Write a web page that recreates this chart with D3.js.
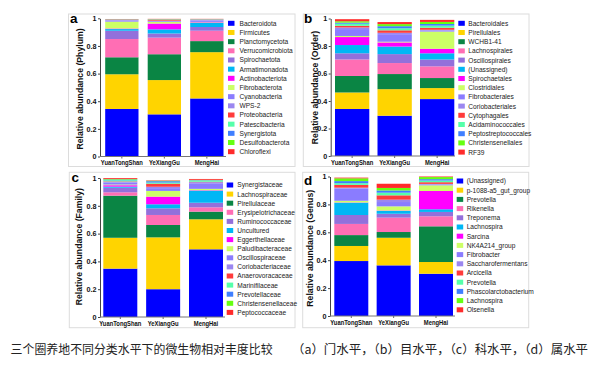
<!DOCTYPE html>
<html><head><meta charset="utf-8">
<script src="https://cdn.jsdelivr.net/npm/d3@7"></script>
<style>body{margin:0;background:#fff}svg{display:block}</style>
</head><body>
<svg id="chart" width="600" height="369"></svg>
<script>
// ---------- data ----------
const sites = ["YuanTongShan", "YeXiangGu", "MengHai"];
const yTickValues = [0, 0.2, 0.4, 0.6, 0.8, 1];
const yTickLabels = ["0", "0.2", "0.4", "0.6", "0.8", "1"];
const palette = ["#0000ff", "#ffd400", "#0a8544", "#ff6eb4", "#9370db", "#00b7f5", "#ff00ff",
  "#ccff66", "#8a7cff", "#9b87f0", "#ff3b3b", "#55ffaa", "#3f7fff", "#66ff11", "#ff2b2b"];

// rows: [YuanTongShan, YeXiangGu, MengHai]
const phylumNames = ["Bacteroidota", "Firmicutes", "Planctomycetota", "Verrucomicrobiota", "Spirochaetota",
  "Armatimonadota", "Actinobacteriota", "Fibrobacterota", "Cyanobacteria", "WPS-2", "Proteobacteria",
  "Patescibacteria", "Synergistota", "Desulfobacterota", "Chloroflexi"];
const phylumValues = [
  [0.344, 0.305, 0.420], [0.251, 0.248, 0.335], [0.123, 0.187, 0.080], [0.132, 0.120, 0.075],
  [0.060, 0.030, 0.027], [0.012, 0.030, 0.030], [0.004, 0.042, 0.004], [0.050, 0.012, 0.003],
  [0.007, 0.005, 0.010], [0.006, 0.004, 0.006], [0.002, 0.008, 0.002], [0.001, 0.002, 0.001],
  [0.001, 0.001, 0.001], [0.001, 0.001, 0.001], [0.001, 0.001, 0.001]];

const orderNames = ["Bacteroidales", "Pirellulales", "WCHB1-41", "Lachnospirales", "Oscillospirales",
  "(Unassigned)", "Spirochaetales", "Clostridiales", "Fibrobacterales", "Coriobacteriales", "Cytophagales",
  "Acidaminococcales", "Peptostreptococcales", "Christensenellales", "RF39"];
const orderValues = [
  [0.342, 0.293, 0.414], [0.120, 0.193, 0.080], [0.120, 0.110, 0.073], [0.120, 0.080, 0.085],
  [0.045, 0.065, 0.050], [0.060, 0.055, 0.045], [0.058, 0.030, 0.033], [0.008, 0.005, 0.125],
  [0.050, 0.055, 0.008], [0.012, 0.010, 0.005], [0.012, 0.018, 0.015], [0.015, 0.015, 0.015],
  [0.008, 0.015, 0.012], [0.010, 0.015, 0.015], [0.015, 0.015, 0.015]];

const familyNames = ["Synergistaceae", "Lachnospiraceae", "Pirellulaceae", "Erysipelotrichaceae",
  "Ruminococcaceae", "Uncultured", "Eggerthellaceae", "Paludibacteraceae", "Oscillospiraceae",
  "Coriobacteriaceae", "Anaerovoracaceae", "Marinifilaceae", "Prevotellaceae", "Christensenellaceae",
  "Peptococcaceae"];
const familyValues = [
  [0.348, 0.200, 0.487], [0.222, 0.373, 0.216], [0.303, 0.089, 0.055], [0.024, 0.072, 0.031],
  [0.033, 0.048, 0.033], [0.008, 0.029, 0.087], [0.010, 0.055, 0.003], [0.005, 0.041, 0.010],
  [0.015, 0.020, 0.040], [0.005, 0.010, 0.008], [0.003, 0.022, 0.003], [0.008, 0.008, 0.008],
  [0.005, 0.010, 0.003], [0.005, 0.003, 0.003], [0.006, 0.003, 0.006]];

const genusNames = ["(Unassigned)", "p-1088-a5_gut_group", "Prevotella", "Rikenella", "Treponema",
  "Lachnospira", "Sarcina", "NK4A214_group", "Fibrobacter", "Saccharofermentans", "Arcicella",
  "Prevotella", "Phascolarctobacterium", "Lachnospira", "Olsenella"];
const genusValues = [
  [0.394, 0.363, 0.303], [0.108, 0.198, 0.084], [0.078, 0.041, 0.256], [0.080, 0.103, 0.072],
  [0.064, 0.028, 0.031], [0.088, 0.020, 0.019], [0.002, 0.003, 0.131], [0.012, 0.030, 0.041],
  [0.088, 0.031, 0.005], [0.006, 0.017, 0.005], [0.020, 0.031, 0.012], [0.012, 0.019, 0.012],
  [0.015, 0.016, 0.010], [0.020, 0.018, 0.015], [0.005, 0.030, 0.004]];

const caption1 = "三个圈养地不同分类水平下的微生物相对丰度比较";
const caption2 = "（a）门水平，（b）目水平，（c）科水平，（d）属水平";

// ---------- layout ----------
const panels = [
  {letter: "a", title: "Relative abundance (Phylum)", names: phylumNames, values: phylumValues,
   box: [68.5, 14, 295, 166.5], axisX: 100, y0: 156.5, y1: 18.3, barLeft: 105.2, step: 42.5, barW: 33.3,
   axisRight: 226, letterPos: [70, 22.7], titlePos: [80, 89], legX: 228, legTextX: 239.5, legY: 23.3, legStep: 9.17},
  {letter: "b", title: "Relative abundance (Order)", names: orderNames, values: orderValues,
   box: [303.3, 14, 529, 166.5], axisX: 330.7, y0: 156, y1: 18.5, barLeft: 335, step: 42.5, barW: 34.3,
   axisRight: 455, letterPos: [304, 23.3], titlePos: [315, 87.5], legX: 458.3, legTextX: 468.3, legY: 23.3, legStep: 9.2},
  {letter: "c", title: "Relative abundance (Family)", names: familyNames, values: familyValues,
   box: [69.3, 172.3, 295, 327.7], axisX: 100, y0: 317, y1: 178, barLeft: 103.3, step: 42.85, barW: 34,
   axisRight: 225, letterPos: [71.5, 182.3], titlePos: [79, 246.7], legX: 226.7, legTextX: 237.3, legY: 185, legStep: 9.1},
  {letter: "d", title: "Relative abundance (Genus)", names: genusNames, values: genusValues,
   box: [302.7, 172.3, 528.7, 327.7], axisX: 330, y0: 316, y1: 176.5, barLeft: 334.3, step: 42.35, barW: 34,
   axisRight: 455, letterPos: [304, 185], titlePos: [310, 248.3], legX: 456.7, legTextX: 466.7, legY: 181, legStep: 9.2}
];

const svg = d3.select("#chart");
const FONT = "'Liberation Sans', Arial, sans-serif";

function squash(sel, f) {
  sel.each(function () {
    const w = this.getComputedTextLength();
    d3.select(this).attr("textLength", w * f).attr("lengthAdjust", "spacingAndGlyphs");
  });
}

panels.forEach(p => {
  const g = svg.append("g");
  // frame
  g.append("rect").attr("x", p.box[0]).attr("y", p.box[1])
    .attr("width", p.box[2] - p.box[0]).attr("height", p.box[3] - p.box[1])
    .attr("fill", "none").attr("stroke", "#dcdcdc").attr("stroke-width", 1);

  const x = d3.scaleBand().domain(sites)
    .range([p.barLeft, p.barLeft + (sites.length - 1) * p.step + p.barW])
    .paddingInner(1 - p.barW / p.step).paddingOuter(0);
  const y = d3.scaleLinear().domain([0, 1]).range([p.y0, p.y1]);

  const rows = sites.map((s, j) => p.values.map(v => v[j]));
  const keys = d3.range(p.names.length);
  const series = d3.stack().keys(keys).value((row, k) => row[k])(rows);

  g.selectAll("g.layer").data(series).join("g").attr("class", "layer")
    .attr("fill", (d, i) => palette[i])
    .selectAll("rect").data(d => d.map((seg, i) => ({seg, site: sites[i]}))).join("rect")
    .attr("x", d => x(d.site)).attr("width", x.bandwidth())
    .attr("y", d => y(d.seg[1])).attr("height", d => Math.max(0, y(d.seg[0]) - y(d.seg[1])));

  // y axis
  const ya = g.append("g").attr("transform", `translate(${p.axisX},0)`)
    .call(d3.axisLeft(y).tickValues(yTickValues).tickFormat((d, i) => yTickLabels[i])
      .tickSize(2).tickSizeOuter(0).tickPadding(1.5));
  ya.select(".domain").attr("stroke", "#444");
  ya.selectAll(".tick line").attr("stroke", "#444");
  ya.selectAll("text").attr("font-family", FONT).attr("font-size", 7.2)
    .attr("font-weight", "bold").attr("fill", "#111");

  // x axis
  const xa = g.append("g").attr("transform", `translate(0,${p.y0})`)
    .call(d3.axisBottom(x).tickSize(2).tickPadding(2));
  xa.select(".domain").remove();
  xa.selectAll(".tick line").attr("stroke", "#666");
  xa.append("line").attr("x1", p.axisX).attr("x2", p.axisRight).attr("y1", 0).attr("y2", 0)
    .attr("stroke", "#777").attr("stroke-width", 1);
  const xt = xa.selectAll("text").attr("font-family", FONT).attr("font-size", 6.8)
    .attr("font-weight", "bold").attr("fill", "#111");
  squash(xt, 0.86);

  // y title
  g.append("text").attr("transform", `translate(${p.titlePos[0]},${p.titlePos[1]}) rotate(-90)`)
    .attr("text-anchor", "middle").attr("dominant-baseline", "central")
    .attr("font-family", FONT).attr("font-size", 8.7).attr("font-weight", "bold").attr("fill", "#111")
    .text(p.title);

  // panel letter
  g.append("text").attr("x", p.letterPos[0]).attr("y", p.letterPos[1])
    .attr("font-family", FONT).attr("font-size", 13.5).attr("font-weight", "bold").attr("fill", "#000")
    .text(p.letter);

  // legend
  const lg = g.append("g");
  const items = lg.selectAll("g").data(p.names).join("g")
    .attr("transform", (d, i) => `translate(0,${p.legY + i * p.legStep})`);
  items.append("rect").attr("x", p.legX).attr("y", -2.5).attr("width", 6.5).attr("height", 5)
    .attr("fill", (d, i) => palette[i]);
  items.append("text").attr("x", p.legTextX).attr("y", 2.4)
    .attr("font-family", FONT).attr("font-size", 6.6).attr("fill", "#222").text(d => d);
});

// caption
svg.append("text").attr("x", 10.6).attr("y", 353.5)
  .attr("font-family", "'Noto Sans CJK SC', sans-serif").attr("font-size", 12).attr("fill", "#222")
  .attr("textLength", 262).attr("lengthAdjust", "spacingAndGlyphs").text(caption1);
svg.append("text").attr("x", 292).attr("y", 353.5)
  .attr("font-family", "'Noto Sans CJK SC', sans-serif").attr("font-size", 12).attr("fill", "#222")
  .attr("textLength", 296).attr("lengthAdjust", "spacingAndGlyphs").text(caption2);
</script>
</body></html>
